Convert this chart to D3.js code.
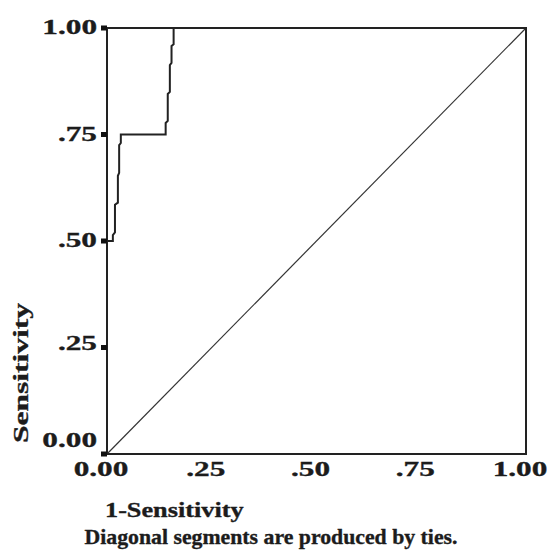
<!DOCTYPE html>
<html>
<head>
<meta charset="utf-8">
<script src="https://cdn.jsdelivr.net/npm/d3@7/dist/d3.min.js"></script>
<style>
  body { margin: 0; background: #fff; }
  text { font-family: "Liberation Serif", "Times New Roman", serif; font-weight: bold; fill: #1c1c1c; stroke: #1c1c1c; stroke-width: 0.35px; }
</style>
</head>
<body>
<div id="chart"></div>
<script>
// ROC curve (false positive rate / true positive rate)
const fpr = [0, 0, 0.014, 0.014, 0.019, 0.019, 0.026, 0.026, 0.029, 0.029, 0.033, 0.033,
             0.140, 0.140, 0.145, 0.145, 0.150, 0.150, 0.154, 0.154, 0.159, 0.159, 1];
const tpr = [0, 0.5, 0.5, 0.514, 0.52, 0.585, 0.59, 0.653, 0.66, 0.725, 0.73, 0.75,
             0.75, 0.777, 0.782, 0.845, 0.85, 0.913, 0.918, 0.958, 0.962, 1, 1];
const refLine = [0, 1];
const tickValues = [0, 0.25, 0.5, 0.75, 1];
const tickLabels = ["0.00", ".25", ".50", ".75", "1.00"];
const xTitle = "1-Sensitivity";
const yTitle = "Sensitivity";
const footnote = "Diagonal segments are produced by ties.";

const width = 555, height = 550;
const margin = { top: 28, right: 29, bottom: 96, left: 107 };

const svg = d3.select("#chart").append("svg")
    .attr("width", width)
    .attr("height", height);

const x = d3.scaleLinear().domain([0, 1]).range([margin.left, width - margin.right]);
const y = d3.scaleLinear().domain([0, 1]).range([height - margin.bottom, margin.top]);

// stretch text along its baseline like the original
function stretch(sel, k) {
    sel.each(function () {
        const len = this.getComputedTextLength();
        d3.select(this).attr("textLength", len * k).attr("lengthAdjust", "spacingAndGlyphs");
    });
}

// reference diagonal
svg.append("line")
    .attr("x1", x(refLine[0])).attr("y1", y(refLine[0]))
    .attr("x2", x(refLine[1])).attr("y2", y(refLine[1]))
    .attr("stroke", "#333").attr("stroke-width", 1.2);

// ROC curve
const pts = fpr.map((f, i) => [f, tpr[i]]);
svg.append("path")
    .datum(pts)
    .attr("fill", "none")
    .attr("stroke", "#222")
    .attr("stroke-width", 2)
    .attr("d", d3.line().x(d => x(d[0])).y(d => y(d[1])));

// frame
svg.append("rect")
    .attr("x", x(0)).attr("y", y(1))
    .attr("width", x(1) - x(0)).attr("height", y(0) - y(1))
    .attr("fill", "none").attr("stroke", "#222").attr("stroke-width", 2);

// y tick markers
svg.selectAll(".ymark")
    .data(tickValues)
    .enter().append("rect")
    .attr("x", x(0) - 6).attr("y", d => y(d) - 2.5)
    .attr("width", 6).attr("height", 5)
    .attr("fill", "#111");

// y tick labels
svg.selectAll(".ylab")
    .data(tickValues)
    .enter().append("text")
    .attr("x", x(0) - 10)
    .attr("y", d => y(d) + (d === 0 ? -7 : d === 0.25 ? 2 : 6))
    .attr("text-anchor", "end")
    .style("font-size", "22px")
    .text((d, i) => tickLabels[i])
    .call(stretch, 1.42);

// x tick labels
svg.selectAll(".xlab")
    .data(tickValues)
    .enter().append("text")
    .attr("x", d => x(d) - 6)
    .attr("y", y(0) + 22)
    .attr("text-anchor", "middle")
    .style("font-size", "22px")
    .text((d, i) => tickLabels[i])
    .call(stretch, 1.42);

// axis titles
svg.append("text")
    .attr("x", 105).attr("y", 517)
    .style("font-size", "21px")
    .text(xTitle)
    .call(stretch, 1.25);

svg.append("text")
    .attr("transform", "translate(28,373) rotate(-90)")
    .attr("text-anchor", "middle")
    .style("font-size", "21px")
    .text(yTitle)
    .call(stretch, 1.5);

// footnote
svg.append("text")
    .attr("x", 271).attr("y", 544)
    .attr("text-anchor", "middle")
    .style("font-size", "21px")
    .text(footnote)
    .call(function (sel) {
        sel.attr("textLength", 373).attr("lengthAdjust", "spacingAndGlyphs");
    });
</script>
</body>
</html>
